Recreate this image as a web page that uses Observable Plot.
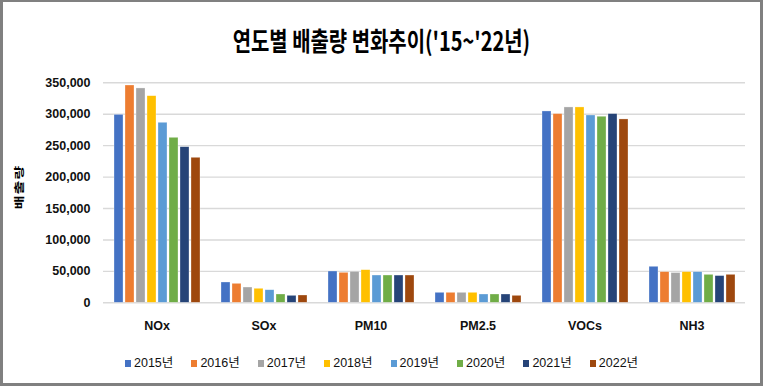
<!DOCTYPE html>
<html>
<head>
<meta charset="utf-8">
<script src="https://cdn.jsdelivr.net/npm/d3@7"></script>
<script src="https://cdn.jsdelivr.net/npm/@observablehq/plot@0.6"></script>
<style>
  html, body { margin: 0; padding: 0; background: #fff; }
  body { position: relative; width: 763px; height: 386px; overflow: hidden;
         font-family: "Liberation Sans", "Noto Sans CJK KR", sans-serif; }
  #frame { position: absolute; left: 0; top: 0; width: 763px; height: 386px; box-sizing: border-box;
           border: 3px solid #808080; border-top-width: 2px; pointer-events: none; z-index: 5; }
  #title { position: absolute; left: 0; top: 28px; width: 763px; text-align: center;
           font-family: "Noto Sans CJK KR", sans-serif; font-weight: bold; font-size: 24px; line-height: 24px;
           color: #000; transform: scale(0.83, 1.1); transform-origin: 381px 12px; white-space: nowrap; }
  #ylabel { position: absolute; left: 19px; top: 187px; width: 0; height: 0; }
  #ylabel span { position: absolute; left: 0; top: 0; transform: translate(-50%, -50%) rotate(-90deg) scale(1.0, 0.68);
                 font-family: "Noto Sans CJK KR", sans-serif; font-weight: bold; font-size: 15px; letter-spacing: 1px;
                 line-height: 15px; white-space: nowrap; color: #000; }
  #chart { position: absolute; left: 0; top: 60px; }
  #legend { position: absolute; left: 0; top: 356px; height: 14px; }
  .item { position: absolute; top: 0; height: 14px; white-space: nowrap; }
  .sw { position: absolute; left: 0; top: 4px; width: 6px; height: 7px; }
  .lt { position: absolute; left: 9px; top: 0; font-size: 12.5px; line-height: 14px; color: #111; }
</style>
</head>
<body>
<div id="frame"></div>
<div id="title">연도별 배출량 변화추이('15~'22년)</div>
<div id="ylabel"><span>배출량</span></div>
<div id="chart"></div>
<div id="legend"></div>
<script>
// ---- data ----
const categories = ["NOx", "SOx", "PM10", "PM2.5", "VOCs", "NH3"];
const years = ["2015년", "2016년", "2017년", "2018년", "2019년", "2020년", "2021년", "2022년"];
const colors = ["#4472C4", "#ED7D31", "#A5A5A5", "#FFC000", "#5B9BD5", "#70AD47", "#264478", "#9E480E"];
const nox  = [299000, 345700, 341000, 328700, 286400, 262500, 247600, 230700];
const sox  = [32300, 30200, 24300, 22300, 20000, 13200, 11100, 11600];
const pm10 = [49800, 47700, 49300, 51900, 43400, 43400, 43400, 43400];
const pm25 = [15900, 15900, 15900, 15900, 13200, 13200, 13200, 11100];
const vocs = [304400, 300200, 310800, 310800, 298000, 296000, 300200, 291700];
const nh3  = [57300, 48800, 47300, 48800, 48800, 44500, 42500, 44500];
const yTicks = [0, 50000, 100000, 150000, 200000, 250000, 300000, 350000];

const series = [nox, sox, pm10, pm25, vocs, nh3];
const table = [];
categories.forEach((c, i) => years.forEach((y, j) => table.push({cat: c, year: y, value: series[i][j]})));

const chart = Plot.plot({
  width: 763,
  height: 285,
  marginLeft: 100,
  marginRight: 16,
  marginTop: 22.3,
  marginBottom: 42.7,
  style: {fontFamily: "'Liberation Sans', 'Noto Sans CJK KR', sans-serif", background: "transparent"},
  fx: {domain: categories, padding: 0, label: null},
  x: {domain: years, paddingInner: 0.22, paddingOuter: 0.88, axis: null},
  y: {domain: [0, 350000], label: null},
  color: {domain: years, range: colors},
  marks: [
    Plot.gridY(yTicks, {stroke: "#d9d9d9", strokeOpacity: 1, strokeWidth: 1.4}),
    Plot.axisY({ticks: yTicks, tickSize: 0, tickPadding: 13, tickFormat: d3.format(","), label: null,
                fontSize: 12.5, fontWeight: "bold", fill: "#111"}),
    Plot.axisFx({anchor: "bottom", tickSize: 0, tickPadding: 18, label: null, fontSize: 12.5, fontWeight: "bold", fill: "#111"}),
    Plot.barY(table, {fx: "cat", x: "year", y: "value", fill: "year", stroke: "#fff", strokeOpacity: 0.5, strokeWidth: 0.6})
  ]
});
document.getElementById("chart").appendChild(chart);

// legend
const legend = document.getElementById("legend");
years.forEach((y, i) => {
  const it = document.createElement("div");
  it.className = "item";
  it.style.left = (125 + i * 66.4) + "px";
  const sw = document.createElement("div");
  sw.className = "sw";
  sw.style.background = colors[i];
  const t = document.createElement("div");
  t.className = "lt";
  t.textContent = y;
  it.appendChild(sw); it.appendChild(t);
  legend.appendChild(it);
});
</script>
</body>
</html>
